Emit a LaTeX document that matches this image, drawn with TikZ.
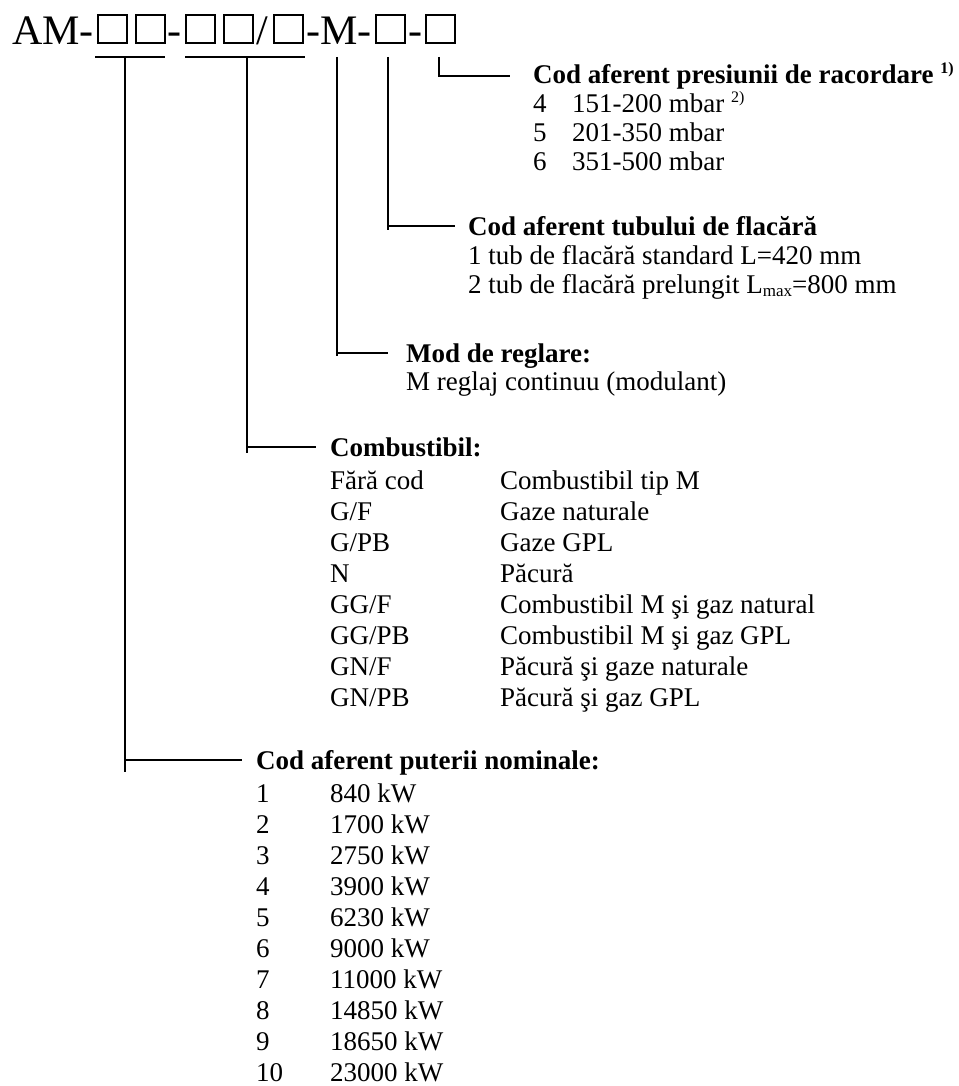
\documentclass[tikz,border=0pt]{standalone}
\usepackage{fontspec}
\setmainfont{Liberation Serif}
\newcommand{\supx}[1]{\raisebox{10pt}{\fontsize{16}{16}\selectfont #1}}
\newcommand{\subx}[1]{\raisebox{-3pt}{\fontsize{17}{17}\selectfont #1}}
\begin{document}
\begin{tikzpicture}[x=1pt,y=-1pt,
  ln/.style={line width=1.8pt},
  bx/.style={draw,line width=2pt,minimum width=29pt,minimum height=28pt,inner sep=0pt,anchor=south west},
  ttl/.style={font=\fontsize{42}{48}\selectfont,inner sep=0pt,anchor=base west},
  hd/.style={font=\fontsize{27}{31}\selectfont\bfseries,inner sep=0pt,anchor=base west},
  itm/.style={font=\fontsize{27}{31}\selectfont,inner sep=0pt,anchor=base west}]
\useasboundingbox (0,0) rectangle (958,1086);
% title
\node[ttl] (t1) at (12,45) {AM-};
\node[bx] (b1) at (97,44) {};
\node[bx] (b2) at (135,44) {};
\node[ttl] (t2) at (167,45) {-};
\node[bx] (b3) at (185,44) {};
\node[bx] (b4) at (223,44) {};
\node[ttl] (t3) at (256,45) {/};
\node[bx] (b5) at (273,44) {};
\node[ttl] (t4) at (306,45) {-M-};
\node[bx] (b6) at (375,44) {};
\node[ttl] (t5) at (408,45) {-};
\node[bx] (b7) at (425,44) {};
% connector coordinates
\coordinate (u1a) at (95,57);  \coordinate (u1b) at (165,57);
\coordinate (u2a) at (185,57); \coordinate (u2b) at (305,57);
\coordinate (p1t) at (125,57); \coordinate (p1e) at (125,772); \coordinate (p1h) at (125,760); \coordinate (p1r) at (242,760);
\coordinate (p2t) at (247,57); \coordinate (p2e) at (247,453); \coordinate (p2h) at (247,447); \coordinate (p2r) at (316,447);
\coordinate (p3t) at (337,57); \coordinate (p3e) at (337,356); \coordinate (p3h) at (337,353); \coordinate (p3r) at (388,353);
\coordinate (p4t) at (388,57); \coordinate (p4e) at (388,230); \coordinate (p4h) at (388,226); \coordinate (p4r) at (455,226);
\coordinate (p5t) at (439,57); \coordinate (p5r) at (510,76);
\draw[ln] (u1a) -- (u1b);
\draw[ln] (u2a) -- (u2b);
\draw[ln] (p1t) -- (p1e); \draw[ln] (p1h) -- (p1r);
\draw[ln] (p2t) -- (p2e); \draw[ln] (p2h) -- (p2r);
\draw[ln] (p3t) -- (p3e); \draw[ln] (p3h) -- (p3r);
\draw[ln] (p4t) -- (p4e); \draw[ln] (p4h) -- (p4r);
\draw[ln] (p5t) |- (p5r);
% pressure
\node[hd] (h5) at (533,84) {Cod aferent presiunii de racordare \supx{1)}};
\node[itm] (r5a) at (533,113) {4};
\node[itm] (r5b) at (572,113) {151-200 mbar \supx{2)}};
\node[itm] (r5c) at (533,142) {5};
\node[itm] (r5d) at (572,142) {201-350 mbar};
\node[itm] (r5e) at (533,171) {6};
\node[itm] (r5f) at (572,171) {351-500 mbar};
% tube
\node[hd] (h4) at (468,235) {Cod aferent tubului de flacără};
\node[itm] (r4a) at (468,264) {1 tub de flacără standard L=420 mm};
\node[itm] (r4b) at (468,293) {2 tub de flacără prelungit L\subx{max}=800 mm};
% mode
\node[hd] (h3) at (406,362) {Mod de reglare:};
\node[itm] (r3a) at (406,390) {M reglaj continuu (modulant)};
% fuel
\node[hd] (h2) at (330,456) {Combustibil:};
\foreach \c/\d [count=\i from 0] in {{Fără cod}/{Combustibil tip M},{G/F}/{Gaze naturale},{G/PB}/{Gaze GPL},{N}/{Păcură},{GG/F}/{Combustibil M şi gaz natural},{GG/PB}/{Combustibil M şi gaz GPL},{GN/F}/{Păcură şi gaze naturale},{GN/PB}/{Păcură şi gaz GPL}}{
  \node[itm] (fa\i) at (330,489+31*\i) {\c};
  \node[itm] (fb\i) at (500,489+31*\i) {\d};
}
% power
\node[hd] (h1) at (256,769) {Cod aferent puterii nominale:};
\foreach \c/\d [count=\i from 0] in {1/840,2/1700,3/2750,4/3900,5/6230,6/9000,7/11000,8/14850,9/18650,10/23000}{
  \node[itm] (pa\i) at (256,802+31*\i) {\c};
  \node[itm] (pb\i) at (330,802+31*\i) {\d{} kW};
}
\end{tikzpicture}
\end{document}
